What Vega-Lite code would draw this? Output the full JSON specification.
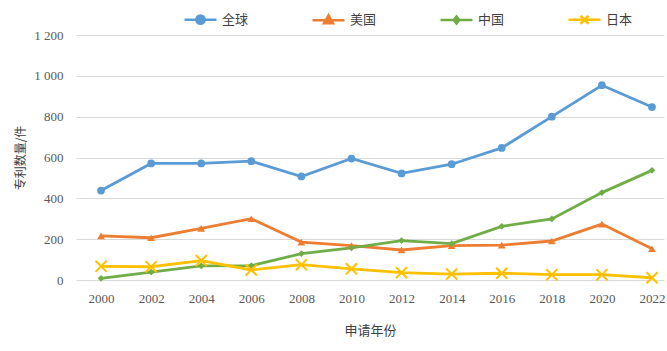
{
  "$schema": "https://vega.github.io/schema/vega-lite/v6.json",
  "width": 588,
  "height": 245,
  "autosize": {"type": "none"},
  "padding": {"left": 76, "top": 35, "right": 3, "bottom": 71},
  "background": "white",
  "config": {
    "view": {"stroke": null},
    "axis": {"labelColor": "#595959", "titleColor": "#404040", "titleFontWeight": "normal"}
  },
  "data": {
    "values": [
      {"year": 2000, "country": "全球", "value": 438},
      {"year": 2002, "country": "全球", "value": 571},
      {"year": 2004, "country": "全球", "value": 571},
      {"year": 2006, "country": "全球", "value": 582},
      {"year": 2008, "country": "全球", "value": 507},
      {"year": 2010, "country": "全球", "value": 595},
      {"year": 2012, "country": "全球", "value": 522},
      {"year": 2014, "country": "全球", "value": 567},
      {"year": 2016, "country": "全球", "value": 647},
      {"year": 2018, "country": "全球", "value": 800},
      {"year": 2020, "country": "全球", "value": 954},
      {"year": 2022, "country": "全球", "value": 847},
      {"year": 2000, "country": "美国", "value": 216},
      {"year": 2002, "country": "美国", "value": 207},
      {"year": 2004, "country": "美国", "value": 253},
      {"year": 2006, "country": "美国", "value": 300},
      {"year": 2008, "country": "美国", "value": 186},
      {"year": 2010, "country": "美国", "value": 168},
      {"year": 2012, "country": "美国", "value": 147},
      {"year": 2014, "country": "美国", "value": 168},
      {"year": 2016, "country": "美国", "value": 171},
      {"year": 2018, "country": "美国", "value": 191},
      {"year": 2020, "country": "美国", "value": 274},
      {"year": 2022, "country": "美国", "value": 153},
      {"year": 2000, "country": "中国", "value": 8},
      {"year": 2002, "country": "中国", "value": 39},
      {"year": 2004, "country": "中国", "value": 69},
      {"year": 2006, "country": "中国", "value": 70},
      {"year": 2008, "country": "中国", "value": 129},
      {"year": 2010, "country": "中国", "value": 157},
      {"year": 2012, "country": "中国", "value": 193},
      {"year": 2014, "country": "中国", "value": 178},
      {"year": 2016, "country": "中国", "value": 263},
      {"year": 2018, "country": "中国", "value": 299},
      {"year": 2020, "country": "中国", "value": 428},
      {"year": 2022, "country": "中国", "value": 537},
      {"year": 2000, "country": "日本", "value": 67},
      {"year": 2002, "country": "日本", "value": 65},
      {"year": 2004, "country": "日本", "value": 95},
      {"year": 2006, "country": "日本", "value": 49},
      {"year": 2008, "country": "日本", "value": 75},
      {"year": 2010, "country": "日本", "value": 55},
      {"year": 2012, "country": "日本", "value": 36},
      {"year": 2014, "country": "日本", "value": 29},
      {"year": 2016, "country": "日本", "value": 33},
      {"year": 2018, "country": "日本", "value": 26},
      {"year": 2020, "country": "日本", "value": 26},
      {"year": 2022, "country": "日本", "value": 11}
    ]
  },
  "encoding": {
    "x": {
      "field": "year",
      "type": "quantitative",
      "scale": {"domain": [1999, 2022.48], "nice": false, "zero": false},
      "axis": {
        "values": [2000, 2002, 2004, 2006, 2008, 2010, 2012, 2014, 2016, 2018, 2020, 2022],
        "format": "d",
        "grid": false,
        "domain": false,
        "ticks": false,
        "labelPadding": 12,
        "labelFont": "Liberation Serif",
        "labelFontSize": 13,
        "title": "申请年份",
        "titleFont": "Noto Sans CJK SC",
        "titleFontSize": 13,
        "titlePadding": 19
      }
    },
    "y": {
      "field": "value",
      "type": "quantitative",
      "scale": {"domain": [0, 1200], "nice": false},
      "axis": {
        "values": [0, 200, 400, 600, 800, 1000, 1200],
        "labelExpr": "replace(format(datum.value, ','), ',', ' ')",
        "grid": true,
        "gridColor": "#d9d9d9",
        "gridWidth": 1,
        "domain": false,
        "ticks": false,
        "labelPadding": 13,
        "labelFont": "Liberation Serif",
        "labelFontSize": 13,
        "title": "专利数量/件",
        "titleFont": "Noto Sans CJK SC",
        "titleFontSize": 12,
        "titlePadding": 6
      }
    }
  },
  "layer": [
    {
      "mark": {"type": "line", "strokeWidth": 2.8},
      "encoding": {
        "color": {
          "field": "country",
          "type": "nominal",
          "scale": {"domain": ["全球", "美国", "中国", "日本"], "range": ["#5B9BD5", "#ED7D31", "#70AD47", "#FFC000"]},
          "legend": {
            "title": null,
            "orient": "none",
            "direction": "horizontal",
            "legendX": 107,
            "legendY": -33,
            "padding": 0,
            "symbolSize": 1024,
            "symbolStrokeWidth": 2.5,
            "labelOffset": 4,
            "columnPadding": 58,
            "labelFont": "Noto Sans CJK SC",
            "labelFontSize": 13,
            "labelColor": "#404040",
            "encode": {
              "symbols": {
                "update": {
                  "shape": {"signal": "datum.value === '全球' ? 'M-1,0L1,0M-0.26,0A0.26,0.26 0 1,1 0.26,0A0.26,0.26 0 1,1 -0.26,0Z' : datum.value === '美国' ? 'M-1,0L1,0M0,-0.3L0.28,0.2L-0.28,0.2Z' : datum.value === '中国' ? 'M-1,0L1,0M0,-0.22L0.18,0L0,0.22L-0.18,0Z' : 'M-1,0L1,0M-0.25,-0.25L0.25,0.25M-0.25,0.25L0.25,-0.25'"},
                  "fill": {"scale": "color", "field": "value"},
                  "stroke": {"scale": "color", "field": "value"},
                  "strokeWidth": {"value": 2.5},
                  "opacity": {"value": 1}
                }
              }
            }
          }
        }
      }
    },
    {
      "transform": [{"filter": "datum.country === '全球'"}],
      "mark": {"type": "point", "shape": "circle", "filled": true, "size": 60, "color": "#5B9BD5", "opacity": 1}
    },
    {
      "transform": [{"filter": "datum.country === '美国'"}],
      "mark": {"type": "point", "shape": "triangle-up", "filled": true, "size": 60, "color": "#ED7D31", "opacity": 1}
    },
    {
      "transform": [{"filter": "datum.country === '中国'"}],
      "mark": {"type": "point", "shape": "diamond", "filled": true, "size": 45, "color": "#70AD47", "opacity": 1}
    },
    {
      "transform": [{"filter": "datum.country === '日本'"}],
      "mark": {"type": "point", "shape": "M-1.5,-1.5L1.5,1.5M-1.5,1.5L1.5,-1.5", "filled": false, "size": 55, "strokeWidth": 2, "color": "#FFC000", "opacity": 1}
    }
  ]
}
